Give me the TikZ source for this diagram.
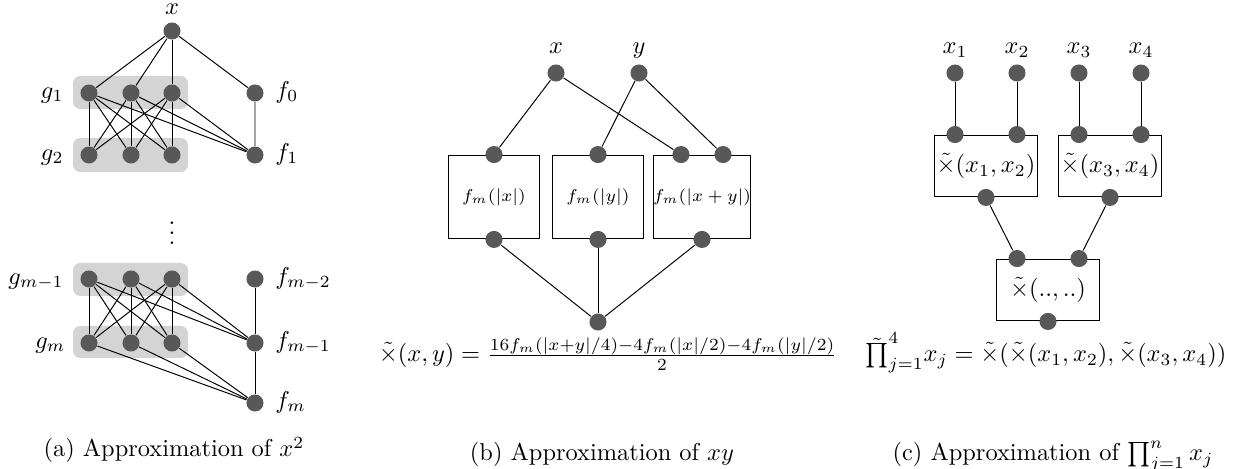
\documentclass[tikz,border=0pt]{standalone}
\usepackage{amsmath, amssymb}
\usepackage{tikz}
\usetikzlibrary{calc}

\definecolor{dotgray}{RGB}{88,88,88}
\definecolor{grpgray}{RGB}{212,212,212}

\tikzset{
  dot/.style={circle, fill=dotgray, inner sep=0pt, minimum size=7pt},
  blk/.style={draw, rectangle, inner sep=0pt, line width=0.4pt},
  lbl/.style={inner sep=0pt},
  wire/.style={line width=0.4pt},
  grp/.style={fill=grpgray, rounded corners=3pt},
}

\begin{document}
\begin{tikzpicture}[x=0.41pt, y=-0.41pt]
  \useasboundingbox (0,0) rectangle (1239,469);

  % (a) Approximation de x^2
  \fill[grp] (73,76) rectangle (188,109);
  \fill[grp] (73,138) rectangle (188,172);
  \fill[grp] (73,263) rectangle (188,296);
  \fill[grp] (73,326) rectangle (188,358);
  \node[dot] (ax) at (172,31) {};
  \foreach \i/\xx in {1/89, 2/131, 3/172} {
    \node[dot] (ga\i) at (\xx,93) {};
    \node[dot] (gb\i) at (\xx,155) {};
    \node[dot] (gc\i) at (\xx,279) {};
    \node[dot] (gd\i) at (\xx,343) {};
  }
  \node[dot] (f0) at (255,93) {};
  \node[dot] (f1) at (255,155) {};
  \node[dot] (fm2) at (255,279) {};
  \node[dot] (fm1) at (255,343) {};
  \node[dot] (fm) at (255,403) {};
  % Liaisons
  \foreach \i in {1,2,3} {
    \draw[wire] (ax) -- (ga\i);
    \draw[wire] (ga\i) -- (f1);
    \draw[wire] (gc\i) -- (fm1);
    \draw[wire] (gd\i) -- (fm);
    \foreach \j in {1,2,3} {
      \draw[wire] (ga\i) -- (gb\j);
      \draw[wire] (gc\i) -- (gd\j);
    }
  }
  \draw[wire] (ax) -- (f0) -- (f1);
  \draw[wire] (fm2) -- (fm1) -- (fm);
  % Etiquettes
  \node[lbl, anchor=base] (lax) at ($(ax)+(0,-16)$) {$x$};
  \node[lbl, anchor=mid east] (lg1) at (64,93) {$g_1$};
  \node[lbl, anchor=mid east] (lg2) at (64,155) {$g_2$};
  \node[lbl, anchor=mid east] (lgm1) at (64,279) {$g_{m-1}$};
  \node[lbl, anchor=mid east] (lgm) at (66,343) {$g_m$};
  \node[lbl, anchor=mid west] (lf0) at (275,93) {$f_0$};
  \node[lbl, anchor=mid west] (lf1) at (275,155) {$f_1$};
  \node[lbl, anchor=mid west] (lfm2) at (275,279) {$f_{m-2}$};
  \node[lbl, anchor=mid west] (lfm1) at (275,343) {$f_{m-1}$};
  \node[lbl, anchor=mid west] (lfm) at (275,403) {$f_m$};
  \node (vdots) at (172,226) {$\vdots$};
  \node[lbl, anchor=base] (capa) at (174,457) {(a) Approximation of $x^2$};

  % (b) Approximation de xy
  \node[dot] (bx) at (556,73) {};
  \node[dot] (by) at (639,73) {};
  \node[blk, minimum width=37.7pt, minimum height=34.4pt,
    font=\fontsize{7.5}{9}\selectfont] (fx) at (494,197) {$f_m(|x|)$};
  \node[blk, minimum width=37.7pt, minimum height=34.4pt,
    font=\fontsize{7.5}{9}\selectfont] (fy) at (598,197) {$f_m(|y|)$};
  \node[blk, minimum width=37.7pt, minimum height=34.4pt,
    font=\fontsize{7.5}{9}\selectfont] (fxy) at (702,197) {$f_m(|x+y|)$};
  \node[dot] (fxin) at (fx.north) {};
  \node[dot] (fyin) at (fy.north) {};
  \node[dot] (fxyin1) at ($(fxy.north)+(-21,0)$) {};
  \node[dot] (fxyin2) at ($(fxy.north)+(21,0)$) {};
  \node[dot] (fxout) at (fx.south) {};
  \node[dot] (fyout) at (fy.south) {};
  \node[dot] (fxyout) at (fxy.south) {};
  \node[dot] (bout) at (598,322) {};
  \draw[wire] (bx) -- (fxin);
  \draw[wire] (bx) -- (fxyin1);
  \draw[wire] (by) -- (fyin);
  \draw[wire] (by) -- (fxyin2);
  \foreach \n in {fxout, fyout, fxyout}
    \draw[wire] (\n) -- (bout);
  \node[lbl, anchor=base] (lbx) at ($(bx)+(0,-19)$) {$x$};
  \node[lbl, anchor=base] (lby) at ($(by)+(0,-19)$) {$y$};
  \node[lbl, anchor=base] (bform) at (608,362)
    {$\tilde{\times}(x,y) = \frac{16f_m(|x+y|/4)-4f_m(|x|/2)-4f_m(|y|/2)}{2}$};
  \node[lbl, anchor=base] (capb) at (602,461) {(b) Approximation of $xy$};

  % (c) Approximation du produit
  \foreach \i/\xx in {1/955, 2/1017, 3/1079, 4/1141} {
    \node[dot] (cx\i) at (\xx,73) {};
    \node[lbl, anchor=base] (lcx\i) at ($(cx\i)+(0,-19)$) {$x_\i$};
  }
  \node[blk, minimum width=42.6pt, minimum height=25.4pt] (m12) at (986,166)
    {$\tilde{\times}(x_1,x_2)$};
  \node[blk, minimum width=42.6pt, minimum height=25.4pt] (m34) at (1110,166)
    {$\tilde{\times}(x_3,x_4)$};
  \node[blk, minimum width=42.6pt, minimum height=25.4pt] (mall) at (1048,290)
    {$\tilde{\times}(..,..)$};
  \foreach \m in {m12, m34, mall} {
    \node[dot] (\m in1) at ($(\m.north)+(-31,0)$) {};
    \node[dot] (\m in2) at ($(\m.north)+(31,0)$) {};
    \node[dot] (\m out) at (\m.south) {};
  }
  \draw[wire] (cx1) -- (m12in1);
  \draw[wire] (cx2) -- (m12in2);
  \draw[wire] (cx3) -- (m34in1);
  \draw[wire] (cx4) -- (m34in2);
  \draw[wire] (m12out) -- (mallin1);
  \draw[wire] (m34out) -- (mallin2);
  \node[lbl, anchor=base] (cform) at (1046,362)
    {$\tilde{\prod}_{j=1}^4 x_j = \tilde{\times}(\tilde{\times}(x_1,x_2),\tilde{\times}(x_3,x_4))$};
  \node[lbl, anchor=base] (capc) at (1053,461) {(c) Approximation of $\prod_{j=1}^n x_j$};
\end{tikzpicture}
\end{document}
